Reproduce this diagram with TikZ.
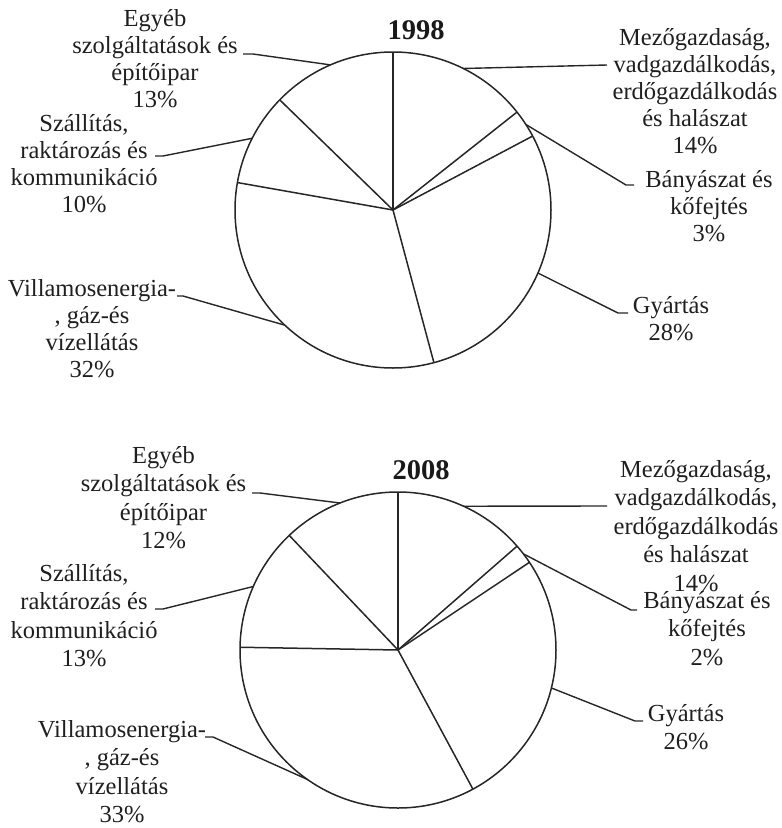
\documentclass[tikz,border=0pt]{standalone}
\usepackage{fontspec}
\setmainfont{Liberation Serif}
\usetikzlibrary{calc}
\begin{document}
\begin{tikzpicture}[x=1pt,y=1pt,
  lbl/.style={align=center, font=\fontsize{24.5}{27}\selectfont, inner sep=0pt, anchor=base, text=black!88},
  lblb/.style={lbl, font=\fontsize{24.5}{28.5}\selectfont},
  ttl/.style={font=\fontsize{28.5}{30}\selectfont\bfseries, inner sep=0pt, anchor=base, text=black!90},
  pie/.style={line width=1.5pt, draw=black!85},
  lead/.style={line width=1.4pt, draw=black!85},
]
\useasboundingbox (0,0) rectangle (782,-828);

% ---------- 1998 ----------
\coordinate (A) at (393,-210);
\draw[pie] (A) circle (158);
\foreach \a in {90,38.3,27.9,-75,170,135.8} \draw[pie] (A) -- ($(A)+(\a:158)$);
\node[ttl] (t1) at (416,-39) {1998};

\node[lbl] (a1) at (155,-107) {Egyéb\\szolgáltatások és\\építőipar\\13\%};
\coordinate (a1t) at (243,-54);
\coordinate (a1e) at ($(A)+(113.3:158)$);
\draw[lead] (a1t) -- ++(10,0) -- (a1e);

\node[lbl] (a2) at (695,-153) {Mezőgazdaság,\\vadgazdálkodás,\\erdőgazdálkodás\\és halászat\\14\%};
\coordinate (a2t) at (607,-65);
\coordinate (a2e) at ($(A)+(63.6:158)$);
\draw[lead] (a2t) -- (a2e);

\node[lbl] (a3) at (709,-241) {Bányászat és\\kőfejtés\\3\%};
\coordinate (a3t) at (634,-185);
\coordinate (a3e) at ($(A)+(32.8:158)$);
\draw[lead] (a3t) -- ++(-8,0) -- (a3e);

\node[lbl] (a4) at (671,-340) {Gyártás\\28\%};
\coordinate (a4t) at (628,-313);
\coordinate (a4e) at ($(A)+(-23.5:158)$);
\draw[lead] (a4t) -- ++(-10,0) -- (a4e);

\node[lbl] (a5) at (92,-377) {Villamosenergia-\\, gáz-és\\vízellátás\\32\%};
\coordinate (a5t) at (177,-296);
\coordinate (a5e) at ($(A)+(226.8:158)$);
\draw[lead] (a5t) -- ++(6,0) -- (a5e);

\node[lbl] (a6) at (84,-212) {Szállítás,\\raktározás és\\kommunikáció\\10\%};
\coordinate (a6t) at (155,-156);
\coordinate (a6e) at ($(A)+(153:158)$);
\draw[lead] (a6t) -- ++(8,0) -- (a6e);

% ---------- 2008 ----------
\coordinate (B) at (398,-650);
\draw[pie] (B) circle (158);
\foreach \a in {90,41.1,33.7,-61.7,179,133.5} \draw[pie] (B) -- ($(B)+(\a:158)$);
\node[ttl] (t2) at (421,-479) {2008};

\node[lblb] (b1) at (163.5,-548.5) {Egyéb\\szolgáltatások és\\építőipar\\12\%};
\coordinate (b1t) at (252,-493);
\coordinate (b1e) at ($(B)+(111.5:158)$);
\draw[lead] (b1t) -- ++(8,0) -- (b1e);

\node[lblb] (b2) at (696,-591) {Mezőgazdaság,\\vadgazdálkodás,\\erdőgazdálkodás\\és halászat\\14\%};
\coordinate (b2t) at (607,-506);
\coordinate (b2e) at ($(B)+(65.5:158)$);
\draw[lead] (b2t) -- (b2e);

\node[lblb] (b3) at (707,-665) {Bányászat és\\kőfejtés\\2\%};
\coordinate (b3t) at (637,-610);
\coordinate (b3e) at ($(B)+(37.5:158)$);
\draw[lead] (b3t) -- ++(-6,0) -- (b3e);

\node[lblb] (b4) at (686,-749.5) {Gyártás\\26\%};
\coordinate (b4t) at (643,-721);
\coordinate (b4e) at ($(B)+(-13.9:158)$);
\draw[lead] (b4t) -- ++(-8,0) -- (b4e);

\node[lblb] (b5) at (122,-822.5) {Villamosenergia-\\, gáz-és\\vízellátás\\33\%};
\coordinate (b5t) at (205,-737);
\coordinate (b5e) at ($(B)+(235:158)$);
\draw[lead] (b5t) -- ++(8,0) -- (b5e);

\node[lblb] (b6) at (84,-666.5) {Szállítás,\\raktározás és\\kommunikáció\\13\%};
\coordinate (b6t) at (155,-609);
\coordinate (b6e) at ($(B)+(156.3:158)$);
\draw[lead] (b6t) -- ++(8,0) -- (b6e);
\end{tikzpicture}
\end{document}
